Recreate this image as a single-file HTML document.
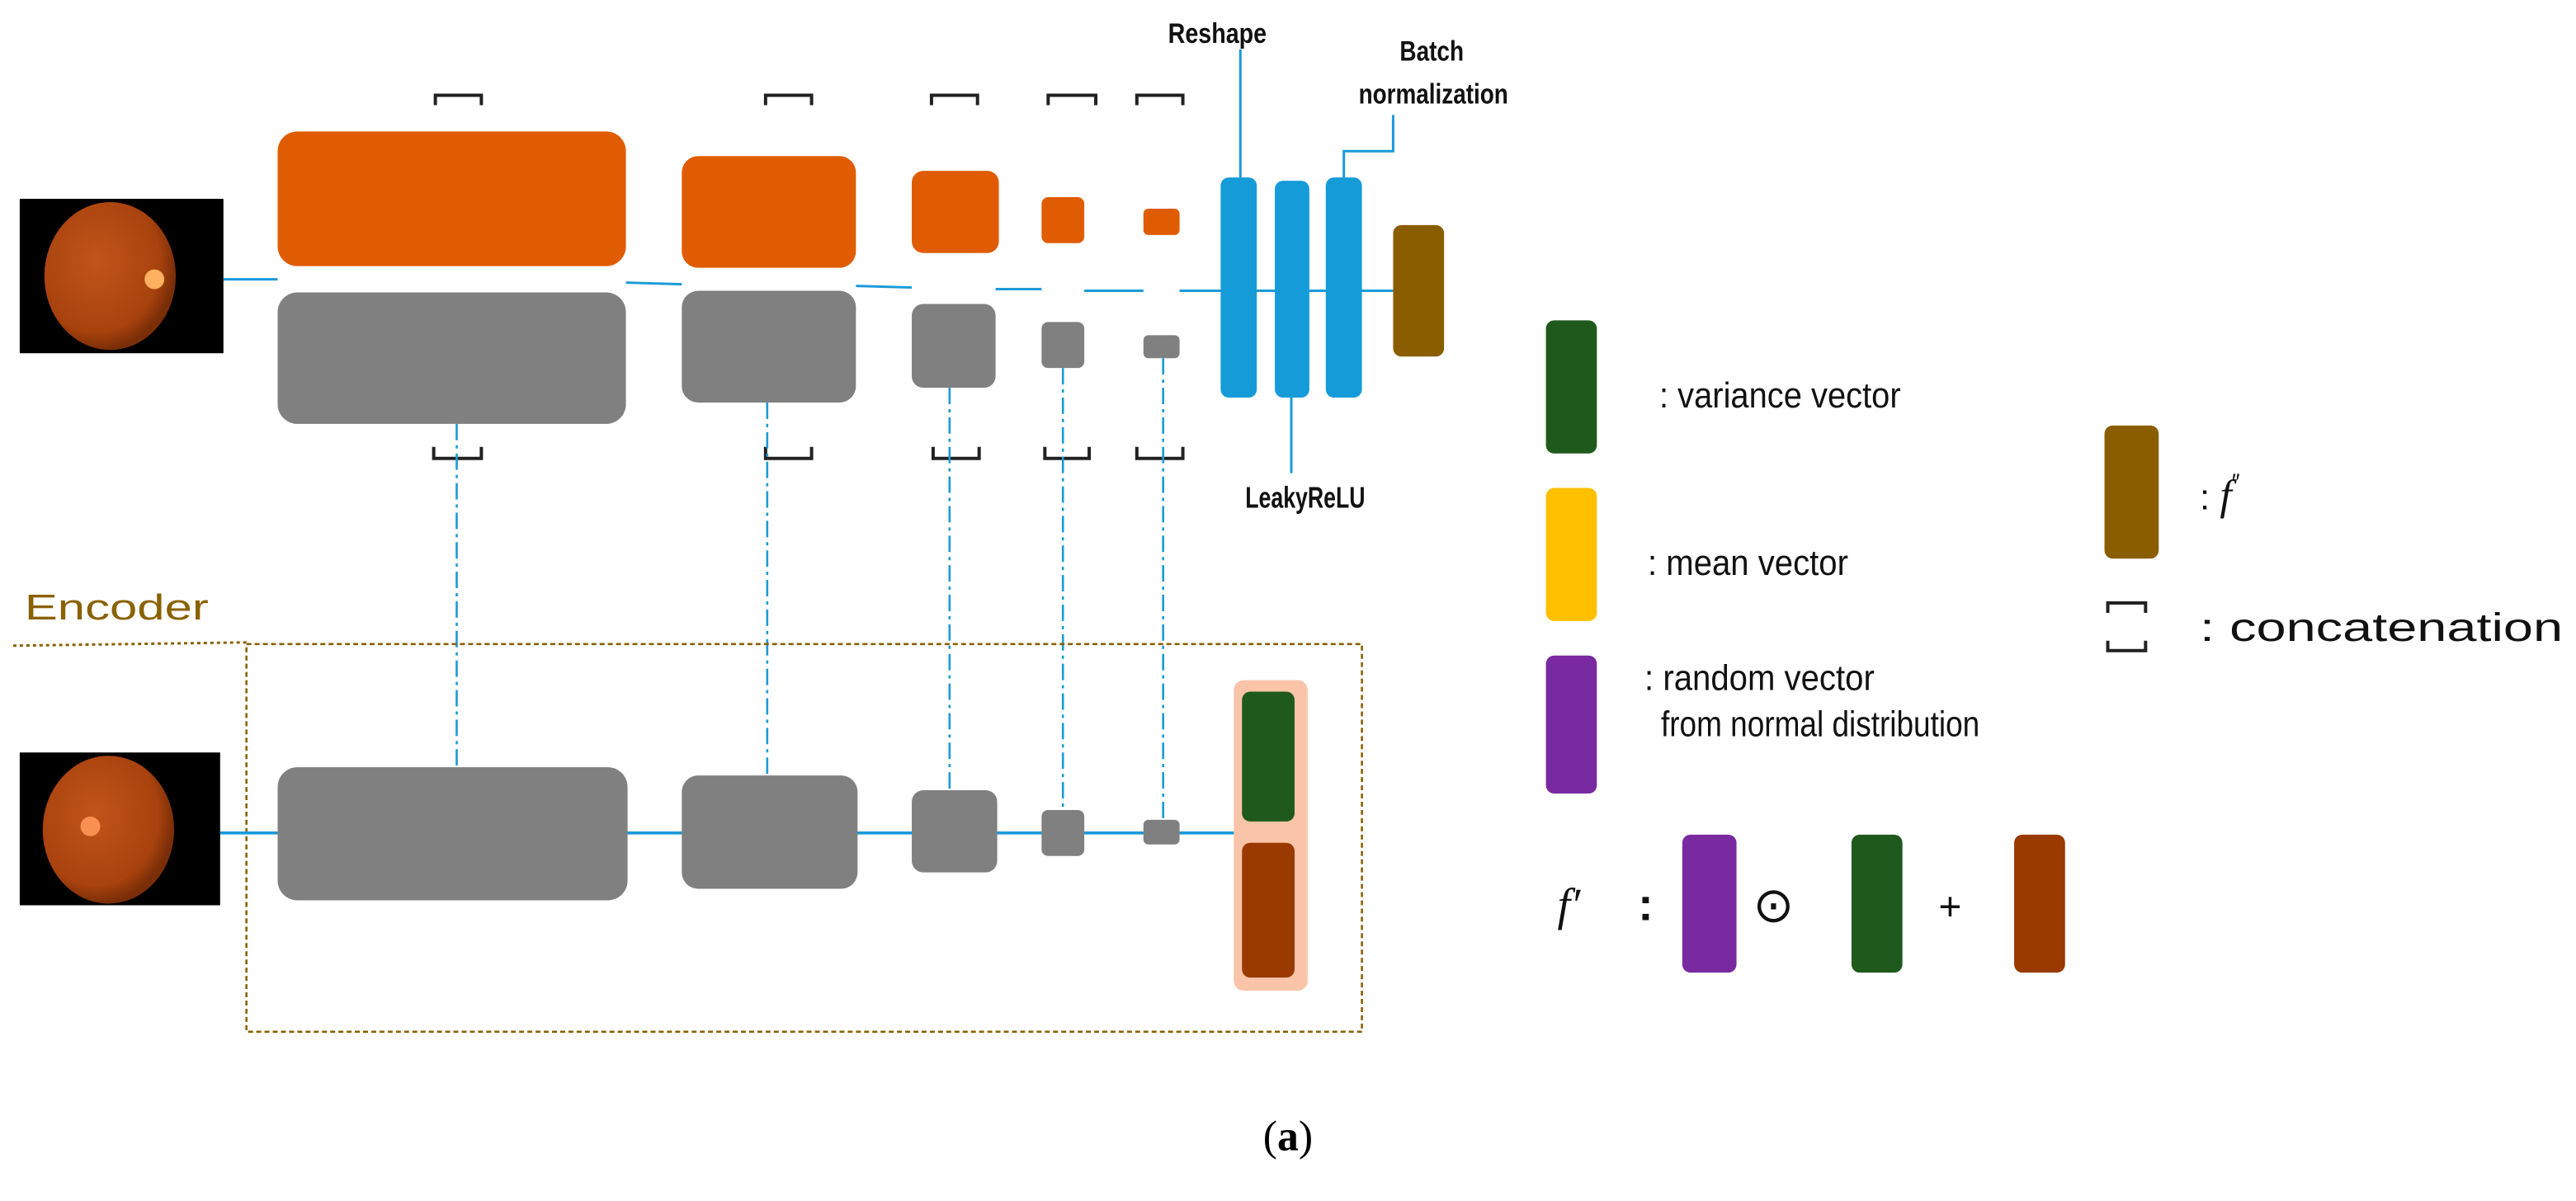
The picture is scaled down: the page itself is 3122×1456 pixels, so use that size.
<!DOCTYPE html>
<html><head><meta charset="utf-8"><style>html,body{margin:0;padding:0;background:#fff}svg{display:block}</style></head>
<body>
<svg width="3122" height="1456" viewBox="0 0 1568 731" preserveAspectRatio="none" xmlns="http://www.w3.org/2000/svg" font-family="Liberation Sans, sans-serif">
<defs>
<radialGradient id="fg" cx="0.4" cy="0.4" r="0.6"><stop offset="0" stop-color="#c0551a"/><stop offset="0.8" stop-color="#a8420e"/><stop offset="1" stop-color="#7a2e08"/></radialGradient>
</defs>
<rect x="12" y="121" width="124" height="94" fill="#000"/>
<ellipse cx="67" cy="168" rx="40" ry="45" fill="url(#fg)"/>
<circle cx="94" cy="170" r="6" fill="#ffb060"/>
<rect x="12" y="458" width="122" height="93" fill="#000"/>
<ellipse cx="66" cy="505" rx="40" ry="45" fill="url(#fg)"/>
<circle cx="55" cy="503" r="6" fill="#f79050"/>
<g stroke="#1b9ad8" stroke-width="1.5" fill="none">
<line x1="136" y1="170" x2="169" y2="170"/>
<line x1="381" y1="172" x2="415" y2="173"/>
<line x1="521" y1="174" x2="555" y2="175"/>
<line x1="606" y1="176" x2="634" y2="176"/>
<line x1="660" y1="177" x2="696" y2="177"/>
<line x1="718" y1="177" x2="848" y2="177"/>
<line x1="755" y1="30" x2="755" y2="108"/>
<polyline points="848,70 848,92 818,92 818,108"/>
<line x1="786" y1="242" x2="786" y2="288"/>
</g>
<g fill="#e05c02">
<rect x="169" y="80" width="212" height="82" rx="12"/>
<rect x="415" y="95" width="106" height="68" rx="10"/>
<rect x="555" y="104" width="53" height="50" rx="7"/>
<rect x="634" y="120" width="26" height="28" rx="4"/>
<rect x="696" y="127" width="22" height="16" rx="3"/>
</g>
<g fill="#808080">
<rect x="169" y="178" width="212" height="80" rx="12"/>
<rect x="415" y="177" width="106" height="68" rx="10"/>
<rect x="555" y="185" width="51" height="51" rx="7"/>
<rect x="634" y="196" width="26" height="28" rx="4"/>
<rect x="696" y="204" width="22" height="14" rx="3"/>
</g>
<g fill="#169bd9">
<rect x="743" y="108" width="22" height="134" rx="5"/>
<rect x="776" y="110" width="21" height="132" rx="5"/>
<rect x="807" y="108" width="22" height="134" rx="5"/>
</g>
<rect x="848" y="137" width="31" height="80" rx="5" fill="#8a5e00"/>
<g stroke="#222" stroke-width="2" fill="none">
<polyline points="265,64 265,58 293,58 293,64"/><polyline points="466,64 466,58 494,58 494,64"/><polyline points="567,64 567,58 595,58 595,64"/><polyline points="638,64 638,58 667,58 667,64"/><polyline points="692,64 692,58 720,58 720,64"/>
<polyline points="264,272 264,279 293,279 293,272"/><polyline points="466,272 466,279 494,279 494,272"/><polyline points="568,272 568,279 596,279 596,272"/><polyline points="636,272 636,279 663,279 663,272"/><polyline points="692,272 692,279 720,279 720,272"/>
<polyline points="1283,373 1283,367 1306,367 1306,373"/><polyline points="1283,390 1283,396 1306,396 1306,390"/>
</g>
<g stroke="#1b9ad8" stroke-width="1.3" stroke-dasharray="10,3,2,3" fill="none">
<line x1="278" y1="258" x2="278" y2="467"/>
<line x1="467" y1="245" x2="467" y2="472"/>
<line x1="578" y1="236" x2="578" y2="481"/>
<line x1="647" y1="224" x2="647" y2="493"/>
<line x1="708" y1="218" x2="708" y2="499"/>
</g>
<text x="15" y="377" font-size="22" fill="#8a6100" textLength="112" lengthAdjust="spacingAndGlyphs">Encoder</text>
<line x1="8" y1="393" x2="150" y2="391" stroke="#8a6100" stroke-width="1.5" stroke-dasharray="2,2"/>
<rect x="150" y="392" width="679" height="236" fill="none" stroke="#8a6100" stroke-width="1.3" stroke-dasharray="3,2"/>
<line x1="134" y1="507" x2="755" y2="507" stroke="#1b9ad8" stroke-width="1.8"/>
<g fill="#808080">
<rect x="169" y="467" width="213" height="81" rx="12"/>
<rect x="415" y="472" width="107" height="69" rx="10"/>
<rect x="555" y="481" width="52" height="50" rx="7"/>
<rect x="634" y="493" width="26" height="28" rx="4"/>
<rect x="696" y="499" width="22" height="15" rx="3"/>
</g>
<rect x="751" y="414" width="45" height="189" rx="6" fill="#f9c4a8"/>
<rect x="756" y="421" width="32" height="79" rx="5" fill="#1f5a1c"/>
<rect x="756" y="513" width="32" height="82" rx="5" fill="#9a3a00"/>
<g font-weight="bold" fill="#111">
<text x="711" y="26" font-size="17" textLength="60" lengthAdjust="spacingAndGlyphs">Reshape</text>
<text x="852" y="37" font-size="17" textLength="39" lengthAdjust="spacingAndGlyphs">Batch</text>
<text x="827" y="63" font-size="17" textLength="91" lengthAdjust="spacingAndGlyphs">normalization</text>
<text x="758" y="309" font-size="18" textLength="73" lengthAdjust="spacingAndGlyphs">LeakyReLU</text>
</g>
<rect x="941" y="195" width="31" height="81" rx="5" fill="#1f5a1c"/>
<rect x="941" y="297" width="31" height="81" rx="5" fill="#ffc000"/>
<rect x="941" y="399" width="31" height="84" rx="5" fill="#7a2aa0"/>
<rect x="1281" y="259" width="33" height="81" rx="5" fill="#8a5e00"/>
<g font-size="22" fill="#111">
<text x="1010" y="248" textLength="147" lengthAdjust="spacingAndGlyphs">: variance vector</text>
<text x="1003" y="350" textLength="122" lengthAdjust="spacingAndGlyphs">: mean vector</text>
<text x="1001" y="420" textLength="140" lengthAdjust="spacingAndGlyphs">: random vector</text>
<text x="1011" y="448" textLength="194" lengthAdjust="spacingAndGlyphs">from normal distribution</text>
<text x="1339" y="310">: <tspan font-family="Liberation Serif, serif" font-style="italic" font-size="26">f</tspan><tspan font-size="14" dy="-12">″</tspan></text>
<text x="1339" y="390" font-size="24" textLength="221" lengthAdjust="spacingAndGlyphs">: concatenation</text>
<text x="948" y="560" font-family="Liberation Serif, serif" font-style="italic" font-size="28">f′</text>
<text x="997" y="560" font-size="28" font-weight="bold">:</text>
<text x="1067" y="561" font-size="30">⊙</text>
<text x="1180" y="560" font-size="24">+</text>
</g>
<rect x="1024" y="508" width="33" height="84" rx="5" fill="#7a2aa0"/>
<rect x="1127" y="508" width="31" height="84" rx="5" fill="#1f5a1c"/>
<rect x="1226" y="508" width="31" height="84" rx="5" fill="#9a3a00"/>
<text x="784" y="700" text-anchor="middle" font-family="Liberation Serif, serif" font-size="26">(<tspan font-weight="bold">a</tspan>)</text>
</svg>
</body></html>
